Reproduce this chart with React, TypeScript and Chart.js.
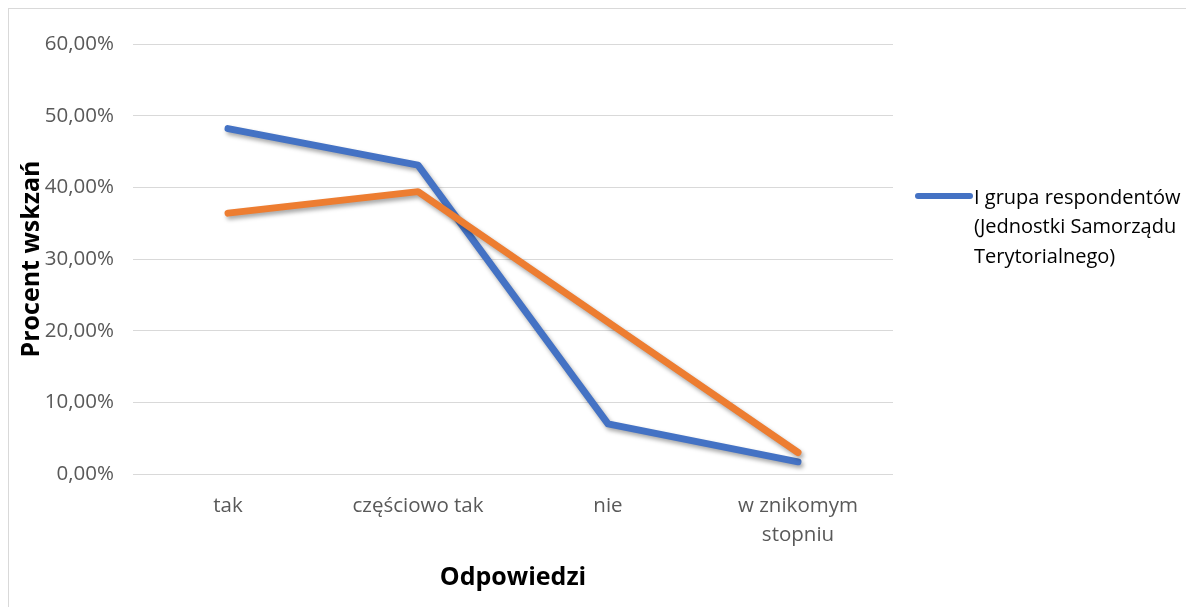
import React, { useEffect, useRef } from "react";
import { Chart, registerables } from "chart.js";

Chart.register(...registerables);

const categories: (string | string[])[] = ["tak", "częściowo tak", "nie", ["w znikomym", "stopniu"]];
const seriesGroup1 = [48.2, 43.1, 7.0, 1.7];
const seriesGroup2 = [36.4, 39.4, 21.2, 3.0];
const seriesNames = ["I grupa respondentów (Jednostki Samorządu Terytorialnego)", "II grupa respondentów"];
const legendLines = ["I grupa respondentów", "(Jednostki Samorządu", "Terytorialnego)"];
const yTickMax = 60;
const yTickStep = 10;
const xTitle = "Odpowiedzi";
const yTitle = "Procent wskzań";

const BLUE = "#4472C4";
const ORANGE = "#ED7D31";
const FONT = "'Open Sans', 'Noto Sans', sans-serif";

const shadowPlugin = {
  id: "lineShadow",
  beforeDatasetDraw(chart: any) {
    const ctx = chart.ctx;
    ctx.save();
    ctx.shadowColor = "rgba(0,0,0,0.35)";
    ctx.shadowBlur = 4;
    ctx.shadowOffsetX = 2;
    ctx.shadowOffsetY = 3;
  },
  afterDatasetDraw(chart: any) {
    chart.ctx.restore();
  },
};

const legendPlugin = {
  id: "customLegend",
  afterDraw(chart: any) {
    const ctx = chart.ctx;
    const area = chart.chartArea;
    const x0 = area.right + 22;
    const y0 = 187;
    ctx.save();
    ctx.strokeStyle = BLUE;
    ctx.lineWidth = 6;
    ctx.lineCap = "round";
    ctx.beginPath();
    ctx.moveTo(x0 + 3, y0);
    ctx.lineTo(x0 + 55, y0);
    ctx.stroke();
    ctx.fillStyle = "#000000";
    ctx.font = `20px ${FONT}`;
    ctx.textBaseline = "middle";
    ctx.textAlign = "left";
    legendLines.forEach((line, i) => {
      ctx.fillText(line, x0 + 59, y0 + 2 + i * 29.5);
    });
    ctx.restore();
  },
};

export default function App() {
  const canvasRef = useRef<HTMLCanvasElement | null>(null);

  useEffect(() => {
    document.documentElement.style.overflow = "hidden";
    if (!canvasRef.current) return;
    const chart = new Chart(canvasRef.current, {
      type: "line",
      data: {
        labels: categories,
        datasets: [
          {
            label: seriesNames[1],
            data: seriesGroup2,
            borderColor: ORANGE,
            backgroundColor: ORANGE,
            borderWidth: 7,
            pointRadius: 0,
            borderCapStyle: "round",
            borderJoinStyle: "round",
            tension: 0,
            order: 0,
          },
          {
            label: seriesNames[0],
            data: seriesGroup1,
            borderColor: BLUE,
            backgroundColor: BLUE,
            borderWidth: 7,
            pointRadius: 0,
            borderCapStyle: "round",
            borderJoinStyle: "round",
            tension: 0,
            order: 1,
          },
        ],
      },
      options: {
        animation: false,
        responsive: true,
        maintainAspectRatio: false,
        layout: { padding: { top: 35, right: 301, left: 0, bottom: 0 } },
        plugins: {
          legend: { display: false },
          tooltip: { enabled: false },
        },
        scales: {
          x: {
            offset: true,
            grid: { display: false, drawTicks: false },
            border: { display: false },
            ticks: {
              color: "#595959",
              font: { family: FONT, size: 20.5, lineHeight: 1.45 },
              padding: 17,
              maxRotation: 0,
              autoSkip: false,
            },
            title: {
              display: true,
              text: xTitle,
              color: "#000000",
              font: { family: FONT, size: 25, weight: "bold" },
              padding: { top: 0, bottom: 14 },
            },
            afterFit(scale: any) {
              scale.height = 133;
            },
          },
          y: {
            min: 0,
            max: yTickMax,
            grid: { color: "#d9d9d9", lineWidth: 1, drawTicks: false },
            border: { display: false },
            ticks: {
              stepSize: yTickStep,
              color: "#595959",
              font: { family: FONT, size: 20.5 },
              padding: 19,
              callback: (v: any) => `${Number(v).toFixed(2).replace(".", ",")}%`,
            },
            title: {
              display: true,
              text: yTitle,
              color: "#000000",
              font: { family: FONT, size: 25, weight: "bold" },
              padding: { top: 8, bottom: 0 },
            },
            afterFit(scale: any) {
              scale.width = 124;
            },
          },
        },
      },
      plugins: [shadowPlugin, legendPlugin],
    });
    return () => chart.destroy();
  }, []);

  return (
    <div
      style={{
        width: 1186,
        height: 599,
        borderTop: "1px solid #d9d9d9",
        borderLeft: "1px solid #d9d9d9",
        boxSizing: "border-box",
        position: "relative",
        background: "#ffffff",
      }}
    >
      <canvas ref={canvasRef} />
    </div>
  );
}
